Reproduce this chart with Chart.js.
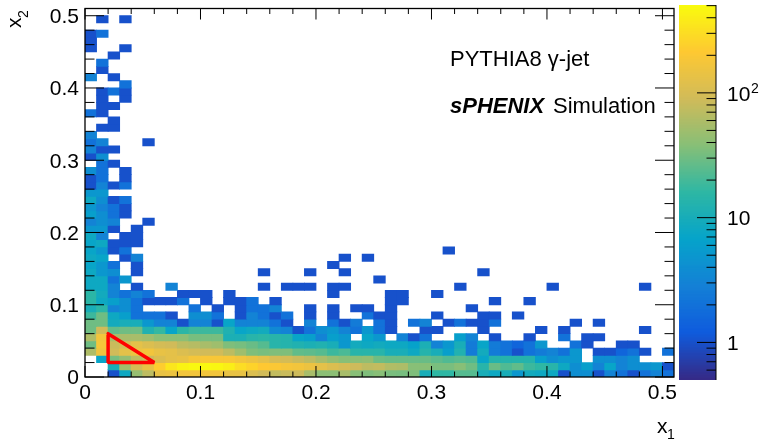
<!DOCTYPE html>
<html>
<head>
<meta charset="utf-8">
<script src="https://cdn.jsdelivr.net/npm/chart.js@4/dist/chart.umd.min.js"></script>
<style>
  body { margin: 0; background: #fff; }
  canvas { position: absolute; top: 0; }
  #map { left: 0; }
  #bar { left: 679px; }
</style>
</head>
<body>
<canvas id="map" width="761" height="441"></canvas>
<canvas id="bar" width="82" height="441"></canvas>
<script>
const binSize = 0.01;

// counts per x1 bin, one array per x2 row, 0 = empty, row00 is the bottom one
const row00 = [0,0,1,8,45,70,140,150,170,170,170,170,140,140,110,90,75,80,85,55,40,40,55,38,35,38,33,32,35,10,16,16,23,23,10,8,10,5,9,8,8,1,4,4,1,3,2,1,2,3,2];
const row01 = [0,0,10,50,95,140,230,350,430,470,470,460,400,300,250,210,200,180,170,150,130,110,95,85,70,75,62,58,38,38,33,33,38,30,14,28,22,26,18,16,14,8,4,6,3,7,3,4,4,5,1];
const row02 = [0,7,32,45,70,85,110,130,140,180,190,190,190,170,150,130,100,95,80,70,55,45,38,40,42,30,28,28,28,28,25,22,24,22,7,13,13,13,13,6,4,5,5,0,4,4,3,4];
const row03 = [60,160,90,130,150,170,140,130,110,95,90,90,70,50,35,32,35,35,26,25,23,18,21,14,14,14,10,10,8,13,10,6,12,2.5,9,2.5,2,1,2,2.5,3,2,5,0,1,1,1.5,2,1,0,2];
const row04 = [30,180,80,95,130,110,95,90,70,65,55,50,35,32,28,23,14,13,12,11,12,10,5,9,8,9,8,8,6.5,11,3,5,10,2.5,7,2.5,2,1.5,2,5,0,0,2,1,0,0,1,1];
const row05 = [60,170,55,55,55,50,40,40,40,32,32,32,11,11,14,15,14,13,7,6,3,6,5,0,7,5,0,3,1,2,0,0,6,3,0,1,0,0,1,0,0,2,0,1,1];
const row06 = [30,90,27,30,30,12,17,7,15,18,18,18,12,7,8,9,3.5,3,1,2,4,5,3,2,5,2,1,0,0,1,1,0,0,0,1,0,0,0,0,1,0,1,0,0,0,0,0,0,1];
const row07 = [30,30,9,10,10,5,3,3,1,3,3,1,7,3,3,3,2,1,0,3,0,2,1,2.5,0,2,1,0,2,3,0,1,2,1,1,2,0,0,0,0,0,0,1,0,1];
const row08 = [18,30,8,6,2,2,2,1,0,4,4,2,0,1,3,2,1,2,0,1,0,1,0,0,2,1,1,0,0,0,1,0,0,0,1,1,0,1];
const row09 = [10,15,3,4,2,0,0,0,0,2,0,1,0,1,2,2,3,0,0,1,0,1,0,1,1,0,1,0,0,0,0,0,0,1];
const row10 = [15,8,6,4,2,1,1,1,2,0,1,0,1,1,2,0,1,0,0,0,0,0,0,0,0,0,1,1,0,0,0,0,0,0,0,1,0,0,1];
const row11 = [15,9,3,2,3,2,0,0,1,1,1,0,1,0,0,0,0,0,0,0,0,1,0,0,0,0,1,1,0,0,1];
const row12 = [8,8,3,0,1,0,0,3,0,0,0,0,0,0,0,1,0,1,1,1,0,1,1,0,0,0,0,0,0,0,0,0,1,0,0,0,0,0,0,0,1,0,0,0,0,0,0,0,1];
const row13 = [8,8,2,5,0,0,0,0,0,0,0,0,0,0,0,0,0,0,0,0,0,0,0,0,0,1];
const row14 = [8,5,4,0,1,0,0,0,0,0,0,0,0,0,0,1,0,0,0,1,0,0,1,0,0,0,0,0,0,0,0,0,0,0,1];
const row15 = [7,5,2,0,1,0,0,0,0,0,0,0,0,0,0,0,0,0,0,0,0,1];
const row16 = [8,7,0,1,3,0,0,0,0,0,0,0,0,0,0,0,0,0,0,0,0,0,1,0,1];
const row17 = [7,5,1,2,0,0,0,0,0,0,0,0,0,0,0,0,0,0,0,0,0,0,0,0,0,0,0,0,0,0,0,1];
const row18 = [7,8,1,1,1];
const row19 = [8,3,0,1,1];
const row20 = [5,5,1,0,1];
const row21 = [3,4,3,0,0,1];
const row22 = [6,4,2,1];
const row23 = [5,3,2,1];
const row24 = [8,4,1,2];
const row25 = [5,5];
const row26 = [1,3,1,2];
const row27 = [1,2,0,1];
const row28 = [4,2,0,1];
const row29 = [0,2,1];
const row30 = [1,4];
const row31 = [3,1,1];
const row32 = [2,3,0,0,0,1];
const row33 = [3];
const row34 = [0,1,1];
const row35 = [0,0,1];
const row36 = [2,1];
const row37 = [0,1,1];
const row38 = [0,1,0,1];
const row39 = [0,1,2,1];
const row40 = [0,0,0,2];
const row41 = [3,0,1];
const row42 = [0,1];
const row43 = [0,2];
const row44 = [0,0,1];
const row45 = [1,0,0,1];
const row46 = [1];
const row47 = [1,2];
const row48 = [];
const row49 = [0,1,0,1];
const row50 = [];

const rows = [row00,row01,row02,row03,row04,row05,row06,row07,row08,row09,row10,row11,row12,row13,row14,row15,row16,row17,row18,row19,row20,row21,row22,row23,row24,row25,row26,row27,row28,row29,row30,row31,row32,row33,row34,row35,row36,row37,row38,row39,row40,row41,row42,row43,row44,row45,row46,row47,row48,row49,row50];

// red box around the selected region
const triangleX = [0.02, 0.06, 0.02, 0.02];
const triangleY = [0.06, 0.02, 0.02, 0.06];

const axisMax = 0.51;
const majorTicks = [0, 0.1, 0.2, 0.3, 0.4, 0.5];
const minorTicks = [0.02,0.04,0.06,0.08,0.12,0.14,0.16,0.18,0.22,0.24,0.26,0.28,0.32,0.34,0.36,0.38,0.42,0.44,0.46,0.48];

const zMin = 0.5;
const zMax = 506;
const zLabelTicks = [1, 10, 100];
const zMinorTicks = [0.6,0.7,0.8,0.9,2,3,4,5,6,7,8,9,20,30,40,50,60,70,80,90,200,300,400,500];

// ROOT kBird palette
const birdR = [0.2082,0.0592,0.0780,0.0232,0.1802,0.5301,0.8186,0.9956,0.9764];
const birdG = [0.1664,0.3599,0.5041,0.6419,0.7178,0.7492,0.7328,0.7862,0.9832];
const birdB = [0.5293,0.8684,0.8385,0.7914,0.6425,0.4662,0.3499,0.1968,0.0539];
const paletteSize = 255;

function birdColor(level) {
    const t = level / (paletteSize - 1) * (birdR.length - 1);
    const i = Math.min(Math.floor(t), birdR.length - 2);
    const f = t - i;
    const mix = a => Math.round((a[i] + (a[i + 1] - a[i]) * f) * 255);
    return `rgb(${mix(birdR)},${mix(birdG)},${mix(birdB)})`;
}

function zLevel(v) {
    const frac = Math.log(v / zMin) / Math.log(zMax / zMin);
    return Math.max(0, Math.min(paletteSize - 1, Math.floor(frac * paletteSize)));
}

const fontName = '"Liberation Sans", Arial, sans-serif';
Chart.defaults.font.family = fontName;
Chart.defaults.color = '#000';

const cells = [];
const cellColors = [];
rows.forEach((row, r) => {
    row.forEach((v, c) => {
        if (v > 0) {
            cells.push({ x: (c + 0.5) * binSize, y: [r * binSize, (r + 1) * binSize] });
            cellColors.push(birdColor(zLevel(v)));
        }
    });
});

function line(ctx, x0, y0, x1, y1) {
    ctx.beginPath();
    ctx.moveTo(x0, y0);
    ctx.lineTo(x1, y1);
    ctx.stroke();
}

const framePlugin = {
    id: 'frame',
    afterDatasetsDraw(chart) {
        const { ctx, chartArea: a, scales } = chart;
        ctx.save();
        ctx.strokeStyle = '#000';
        ctx.lineWidth = 1;
        const xTick = (v, len) => {
            const px = scales.x.getPixelForValue(v);
            line(ctx, px, a.bottom, px, a.bottom - len);
            line(ctx, px, a.top, px, a.top + len);
        };
        const yTick = (v, len) => {
            const py = scales.y.getPixelForValue(v);
            line(ctx, a.left, py, a.left + len, py);
            line(ctx, a.right, py, a.right - len, py);
        };
        majorTicks.forEach(v => { xTick(v, 11); yTick(v, 19); });
        minorTicks.forEach(v => { xTick(v, 5.5); yTick(v, 9.5); });
        ctx.lineWidth = 1.3;
        ctx.strokeRect(a.left, a.top, a.right - a.left, a.bottom - a.top);
        ctx.restore();
    },
    afterDraw(chart) {
        const { ctx } = chart;
        ctx.save();
        ctx.fillStyle = '#000';
        ctx.textBaseline = 'alphabetic';
        ctx.font = `22px ${fontName}`;
        ctx.fillText('PYTHIA8 γ-jet', 450, 66);
        ctx.font = `italic bold 22px ${fontName}`;
        ctx.fillText('sPHENIX', 450, 113);
        ctx.font = `22px ${fontName}`;
        ctx.fillText('Simulation', 553, 113);

        ctx.font = `21px ${fontName}`;
        ctx.fillText('x', 657, 433);
        ctx.font = `14px ${fontName}`;
        ctx.fillText('1', 667, 439);

        ctx.translate(21, 28);
        ctx.rotate(-Math.PI / 2);
        ctx.font = `21px ${fontName}`;
        ctx.fillText('x', 0, 0);
        ctx.font = `14px ${fontName}`;
        ctx.fillText('2', 10, 7);
        ctx.restore();
    }
};

new Chart(document.getElementById('map'), {
    type: 'bar',
    data: {
        datasets: [
            {
                type: 'scatter',
                data: triangleX.map((x, i) => ({ x: x, y: triangleY[i] })),
                showLine: true,
                pointRadius: 0,
                borderColor: '#ff0000',
                borderWidth: 3.5,
                borderJoinStyle: 'bevel',
                borderCapStyle: 'round',
                order: 0
            },
            {
                data: cells,
                backgroundColor: cellColors,
                barPercentage: 1,
                categoryPercentage: 1,
                inflateAmount: 0.4,
                order: 1
            }
        ]
    },
    options: {
        responsive: false,
        animation: false,
        layout: { padding: { top: 8.5, right: 87 } },
        plugins: { legend: { display: false }, tooltip: { enabled: false } },
        scales: {
            x: {
                type: 'linear',
                offset: false,
                min: 0,
                max: axisMax,
                grid: { display: false, drawTicks: false },
                border: { display: false },
                afterBuildTicks: s => { s.ticks = majorTicks.map(v => ({ value: v })); },
                afterFit: s => { s.height = 64; s.paddingLeft = 0; s.paddingRight = 0; },
                ticks: {
                    autoSkip: false,
                    maxRotation: 0,
                    padding: 4,
                    font: { size: 21 },
                    callback: v => String(v)
                }
            },
            y: {
                type: 'linear',
                min: 0,
                max: axisMax,
                grid: { display: false, drawTicks: false },
                border: { display: false },
                afterBuildTicks: s => { s.ticks = majorTicks.map(v => ({ value: v })); },
                afterFit: s => { s.width = 85; s.paddingTop = 0; s.paddingBottom = 0; },
                ticks: {
                    autoSkip: false,
                    padding: 6,
                    labelOffset: 1.5,
                    font: { size: 21 },
                    callback: v => String(v)
                }
            }
        }
    },
    plugins: [framePlugin]
});

// colour bar, one floating bar per palette level
const zStep = Math.pow(zMax / zMin, 1 / paletteSize);
const levels = Array.from({ length: paletteSize }, (_, i) => i);

const barTicksPlugin = {
    id: 'barTicks',
    afterDatasetsDraw(chart) {
        const { ctx, chartArea: a, scales } = chart;
        ctx.save();
        ctx.strokeStyle = '#000';
        ctx.lineWidth = 1;
        zLabelTicks.forEach(v => {
            const py = scales.y.getPixelForValue(v);
            line(ctx, a.right, py, a.right - 19, py);
        });
        zMinorTicks.forEach(v => {
            const py = scales.y.getPixelForValue(v);
            line(ctx, a.right, py, a.right - 9.5, py);
        });
        line(ctx, a.right, a.top, a.right, a.bottom);
        ctx.restore();
    },
    afterDraw(chart) {
        const { ctx, chartArea: a, scales } = chart;
        ctx.save();
        ctx.fillStyle = '#000';
        ctx.font = `14px ${fontName}`;
        ctx.fillText('2', a.right + 35, scales.y.getPixelForValue(100));
        ctx.restore();
    }
};

new Chart(document.getElementById('bar'), {
    type: 'bar',
    data: {
        labels: ['z'],
        datasets: levels.map(i => ({
            data: [[zMin * Math.pow(zStep, i), zMin * Math.pow(zStep, i + 1)]],
            backgroundColor: birdColor(i),
            grouped: false,
            barPercentage: 1,
            categoryPercentage: 1,
            inflateAmount: 0.4
        }))
    },
    options: {
        responsive: false,
        animation: false,
        layout: { padding: { top: 5, bottom: 61 } },
        plugins: { legend: { display: false }, tooltip: { enabled: false } },
        scales: {
            x: { display: false },
            y: {
                type: 'logarithmic',
                position: 'right',
                min: zMin,
                max: zMax,
                grid: { display: false, drawTicks: false },
                border: { display: false },
                afterBuildTicks: s => { s.ticks = zLabelTicks.map(v => ({ value: v })); },
                afterFit: s => { s.width = 45; s.paddingTop = 0; s.paddingBottom = 0; },
                ticks: {
                    autoSkip: false,
                    padding: 11,
                    labelOffset: 2,
                    font: { size: 21 },
                    callback: v => (v === 1 ? '1' : '10')
                }
            }
        }
    },
    plugins: [barTicksPlugin]
});
</script>
</body>
</html>
